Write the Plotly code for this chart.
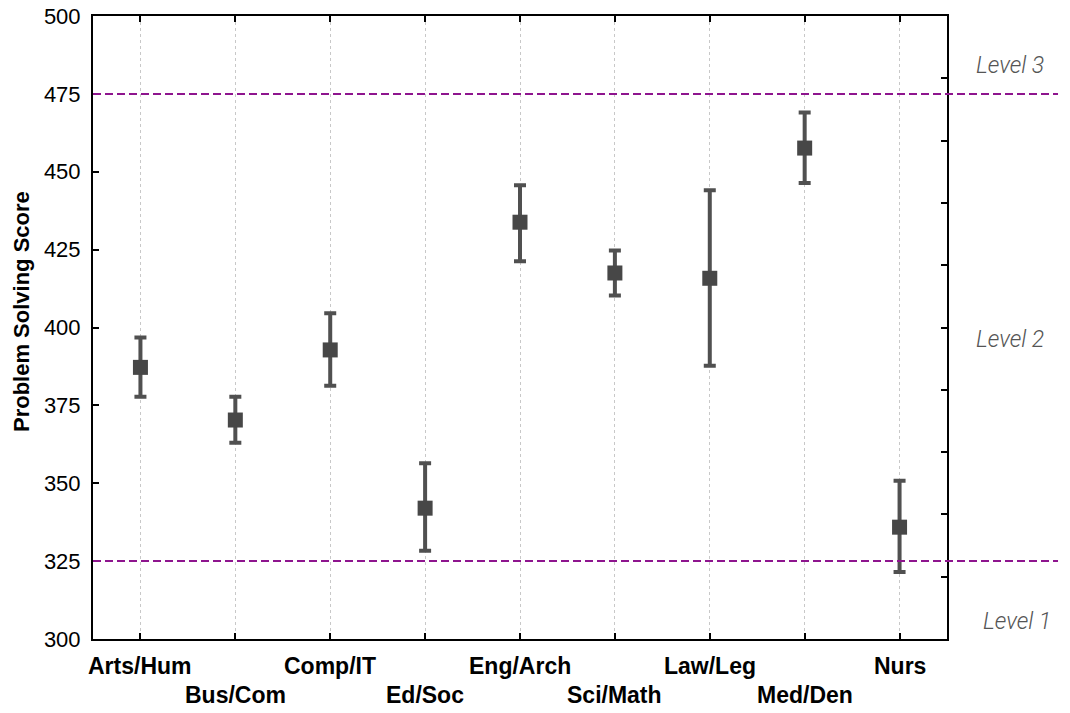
import plotly.graph_objects as go

categories = ["Arts/Hum", "Bus/Com", "Comp/IT", "Ed/Soc", "Eng/Arch",
              "Sci/Math", "Law/Leg", "Med/Den", "Nurs"]
means = [387.2, 370.3, 392.8, 342.0, 433.8, 417.5, 415.8, 457.6, 335.9]
upper = [396.8, 377.8, 404.6, 356.4, 445.7, 424.7, 444.1, 469.0, 350.8]
lower = [377.8, 363.0, 381.3, 328.3, 421.3, 410.3, 387.7, 446.4, 321.5]
level_values = [475, 325]
level_labels = ["Level 3", "Level 2", "Level 1"]
level_label_y = [484, 396, 305.5]
y_ticks = [300, 325, 350, 375, 400, 425, 450, 475, 500]
y_title = "Problem Solving Score"

err_plus = [u - m for u, m in zip(upper, means)]
err_minus = [m - l for m, l in zip(means, lower)]
xs = list(range(len(categories)))

FONT = "Liberation Sans, Arial, sans-serif"

fig = go.Figure()
fig.add_trace(go.Scatter(
    x=xs, y=means, mode="markers",
    marker=dict(symbol="square", size=15, color="#474747"),
    error_y=dict(type="data", symmetric=False, array=err_plus,
                 arrayminus=err_minus, thickness=4, width=6, color="#505050"),
    showlegend=False, hoverinfo="skip",
))
# invisible trace for the right-hand axis
fig.add_trace(go.Scatter(x=[xs[0]], y=[means[0]], yaxis="y2", mode="markers",
                         marker=dict(opacity=0), showlegend=False, hoverinfo="skip"))

for lv in level_values:
    fig.add_shape(type="line", xref="paper", yref="y", x0=0, x1=1.13, y0=lv, y1=lv,
                  line=dict(color="#8e158e", width=2, dash="8px,4px"), layer="above")

for i, c in enumerate(categories):
    fig.add_annotation(x=i, xref="x", y=0, yref="paper", text="<b>%s</b>" % c,
                       showarrow=False, yanchor="middle", yshift=-27 if i % 2 == 0 else -56,
                       font=dict(family=FONT, size=23, color="black"))

label_x = [1.074, 1.074, 1.082]
for lab, ly, lx in zip(level_labels, level_label_y, label_x):
    fig.add_annotation(x=lx, xref="paper", y=ly, yref="y", text="<i>%s</i>" % lab,
                       showarrow=False, xanchor="center", yanchor="middle",
                       font=dict(family="Roboto, Liberation Sans, sans-serif", size=23,
                                 color="#555555", weight=300))

fig.add_annotation(x=-0.083, xref="paper", y=0.525, yref="paper",
                   text="<b>%s</b>" % y_title, textangle=-90, showarrow=False,
                   xanchor="center", yanchor="middle",
                   font=dict(family=FONT, size=22, color="black"))

fig.update_layout(
    width=1070, height=713,
    margin=dict(l=93, r=123, t=16, b=74, autoexpand=False),
    paper_bgcolor="white", plot_bgcolor="white",
    font=dict(family=FONT, size=22, color="black"),
    xaxis=dict(range=[-0.5, 8.5], tickvals=xs, ticktext=[""] * len(xs),
               automargin=False,
               showgrid=True, gridcolor="#c8c8c8", griddash="dot", gridwidth=1,
               showline=True, linecolor="black", linewidth=2, mirror="ticks",
               ticks="inside", ticklen=6, tickwidth=2, tickcolor="black",
               zeroline=False),
    yaxis=dict(range=[300, 500], tickvals=y_ticks, showgrid=False, zeroline=False,
               automargin=False,
               showline=True, linecolor="black", linewidth=2,
               ticks="inside", ticklen=6, tickwidth=2, tickcolor="black",
               ticklabelstandoff=6,
               tickfont=dict(family=FONT, size=22, color="black")),
    yaxis2=dict(range=[300, 500], overlaying="y", side="right", dtick=20,
                automargin=False,
                showticklabels=False, showgrid=False, zeroline=False,
                showline=True, linecolor="black", linewidth=2,
                ticks="inside", ticklen=6, tickwidth=2, tickcolor="black"),
)

fig.write_html("out.html")
